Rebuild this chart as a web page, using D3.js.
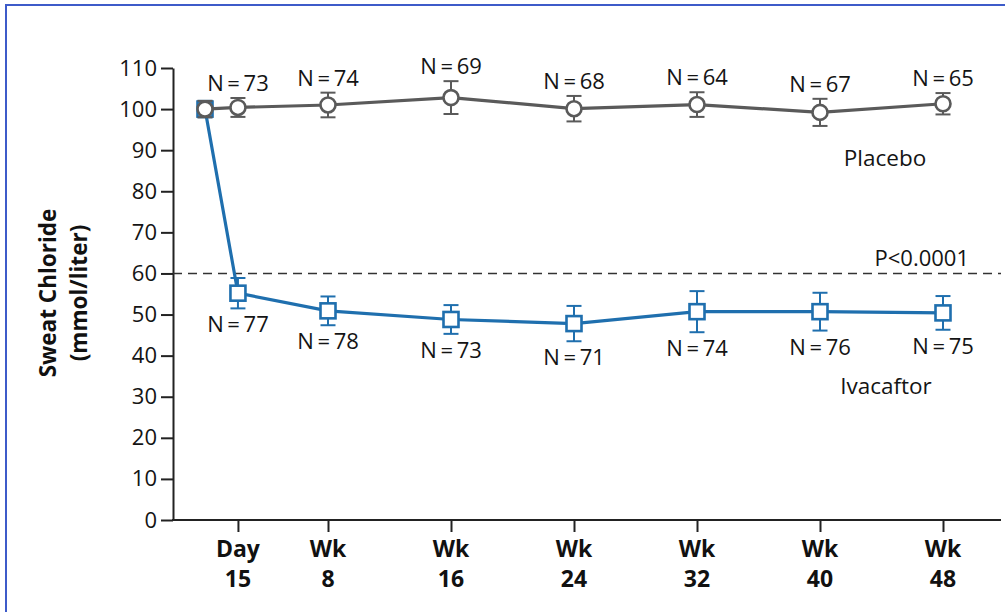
<!DOCTYPE html>
<html>
<head>
<meta charset="utf-8">
<script src="https://cdn.jsdelivr.net/npm/d3@7/dist/d3.min.js"></script>
<style>
  html, body { margin: 0; padding: 0; background: #fff; }
  svg { display: block; }
  text { font-family: "Open Sans", "Noto Sans", sans-serif; }
</style>
</head>
<body>
<svg id="chart" width="1005" height="612"></svg>
<script>
// Study visits, in days from baseline
const days = [0, 15, 56, 112, 168, 224, 280, 336];
const tickDays = [15, 56, 112, 168, 224, 280, 336];
const tickTop = ["Day", "Wk", "Wk", "Wk", "Wk", "Wk", "Wk"];
const tickBottom = ["15", "8", "16", "24", "32", "40", "48"];
const yTicks = [0, 10, 20, 30, 40, 50, 60, 70, 80, 90, 100, 110];

// Placebo group: mean sweat chloride, error half-width, patients measured
const placeboMean = [100, 100.4, 101, 102.8, 100.1, 101.1, 99.2, 101.3];
const placeboErr  = [2, 2.3, 3, 4, 3.1, 3, 3.3, 2.6];
const placeboN    = [null, 73, 74, 69, 68, 64, 67, 65];

// Ivacaftor group
const ivaMean = [100, 55.2, 50.9, 48.8, 47.8, 50.7, 50.7, 50.4];
const ivaErr  = [2, 3.7, 3.5, 3.5, 4.3, 5, 4.6, 4.1];
const ivaN    = [null, 77, 78, 73, 71, 74, 76, 75];

const threshold = 60;

const svg = d3.select("#chart");
const gray = "#5a5a5a";
const blue = "#1f6fae";
const ink = "#141414";

// frame
svg.append("rect")
  .attr("x", 6).attr("y", 5).attr("width", 1020).attr("height", 630)
  .attr("fill", "none").attr("stroke", "#3d5bc9").attr("stroke-width", 2);

const x = d3.scaleLinear().domain([0, 336]).range([205, 943]);
const y = d3.scaleLinear().domain([0, 110]).range([520, 68]);
const axisX0 = 173, axisX1 = 1001;

// y axis
const yAxis = svg.append("g")
  .attr("transform", `translate(${axisX0},0)`)
  .call(d3.axisLeft(y).tickValues(yTicks).tickSize(12).tickPadding(4).tickSizeOuter(0));
yAxis.select(".domain").attr("stroke", "#222").attr("stroke-width", 2);
yAxis.selectAll(".tick line").attr("stroke", "#222").attr("stroke-width", 2);
yAxis.selectAll(".tick text")
  .attr("font-size", 22).attr("fill", ink)
  .style("font-family", "'Open Sans', sans-serif");

// x axis
const xAxis = svg.append("g")
  .attr("transform", `translate(0,${y(0)})`)
  .call(d3.axisBottom(x).tickValues(tickDays).tickSize(12).tickFormat(""));
xAxis.select(".domain").remove();
xAxis.selectAll(".tick line").attr("stroke", "#222").attr("stroke-width", 2);
xAxis.append("line")
  .attr("x1", axisX0 - 1).attr("x2", axisX1)
  .attr("stroke", "#222").attr("stroke-width", 2);

const xl = svg.append("g");
tickDays.forEach((d, i) => {
  xl.append("text").attr("x", x(d)).attr("y", 557)
    .attr("text-anchor", "middle").attr("font-size", 23).attr("font-weight", 700)
    .attr("fill", "#111").text(tickTop[i]);
  xl.append("text").attr("x", x(d)).attr("y", 587)
    .attr("text-anchor", "middle").attr("font-size", 23).attr("font-weight", 700)
    .attr("fill", "#111").text(tickBottom[i]);
});

// y axis title
const yt = svg.append("text")
  .attr("transform", "translate(56,293) rotate(-90)")
  .attr("text-anchor", "middle").attr("font-size", 22.5).attr("font-weight", 700).attr("fill", "#111");
yt.append("tspan").attr("x", 0).attr("dy", 0).text("Sweat Chloride");
yt.append("tspan").attr("x", 0).attr("dy", 31).text("(mmol/liter)");

// threshold line
svg.append("line")
  .attr("x1", axisX0).attr("x2", axisX1)
  .attr("y1", y(threshold)).attr("y2", y(threshold))
  .attr("stroke", "#333").attr("stroke-width", 1.6).attr("stroke-dasharray", "9,6");
svg.append("text").attr("x", 969).attr("y", y(threshold) - 7)
  .attr("text-anchor", "end").attr("font-size", 22).attr("fill", ink).text("P<0.0001");

const line = d3.line().x(d => x(d.day)).y(d => y(d.mean));

function series(mean, err, n, color, shape, labelAbove) {
  const data = days.map((d, i) => ({ day: d, mean: mean[i], err: err[i], n: n[i] }));
  const g = svg.append("g");
  g.append("path").datum(data).attr("d", line)
    .attr("fill", "none").attr("stroke", color).attr("stroke-width", 3.2);
  const pts = g.selectAll(".pt").data(data).join("g");
  pts.append("line")
    .attr("x1", d => x(d.day)).attr("x2", d => x(d.day))
    .attr("y1", d => y(d.mean + d.err)).attr("y2", d => y(d.mean - d.err))
    .attr("stroke", color).attr("stroke-width", 2);
  [1, -1].forEach(s => {
    pts.append("line")
      .attr("x1", d => x(d.day) - 7.5).attr("x2", d => x(d.day) + 7.5)
      .attr("y1", d => y(d.mean + s * d.err)).attr("y2", d => y(d.mean + s * d.err))
      .attr("stroke", color).attr("stroke-width", 2);
  });
  if (shape === "circle") {
    pts.append("circle").attr("cx", d => x(d.day)).attr("cy", d => y(d.mean)).attr("r", 7.5)
      .attr("fill", "#fff").attr("stroke", color).attr("stroke-width", 2.6);
  } else {
    pts.append("rect").attr("x", d => x(d.day) - 7.5).attr("y", d => y(d.mean) - 7.5)
      .attr("width", 15).attr("height", 15)
      .attr("fill", "#fff").attr("stroke", color).attr("stroke-width", 2.6);
  }
  g.selectAll(".nl").data(data.filter(d => d.n != null)).join("text")
    .attr("x", d => x(d.day))
    .attr("y", d => labelAbove ? y(d.mean + d.err) - 7 : y(d.mean - d.err) + 24)
    .attr("text-anchor", "middle").attr("font-size", 22).attr("fill", ink)
    .text(d => `N\u2009=\u2009${d.n}`);
}

series(ivaMean, ivaErr, ivaN, blue, "square", false);
series(placeboMean, placeboErr, placeboN, gray, "circle", true);

svg.append("text").attr("x", 885).attr("y", 166).attr("text-anchor", "middle")
  .attr("font-size", 22.5).attr("fill", ink).text("Placebo");
svg.append("text").attr("x", 886).attr("y", 394).attr("text-anchor", "middle")
  .attr("font-size", 22.5).attr("fill", ink).text("Ivacaftor");
</script>
</body>
</html>
